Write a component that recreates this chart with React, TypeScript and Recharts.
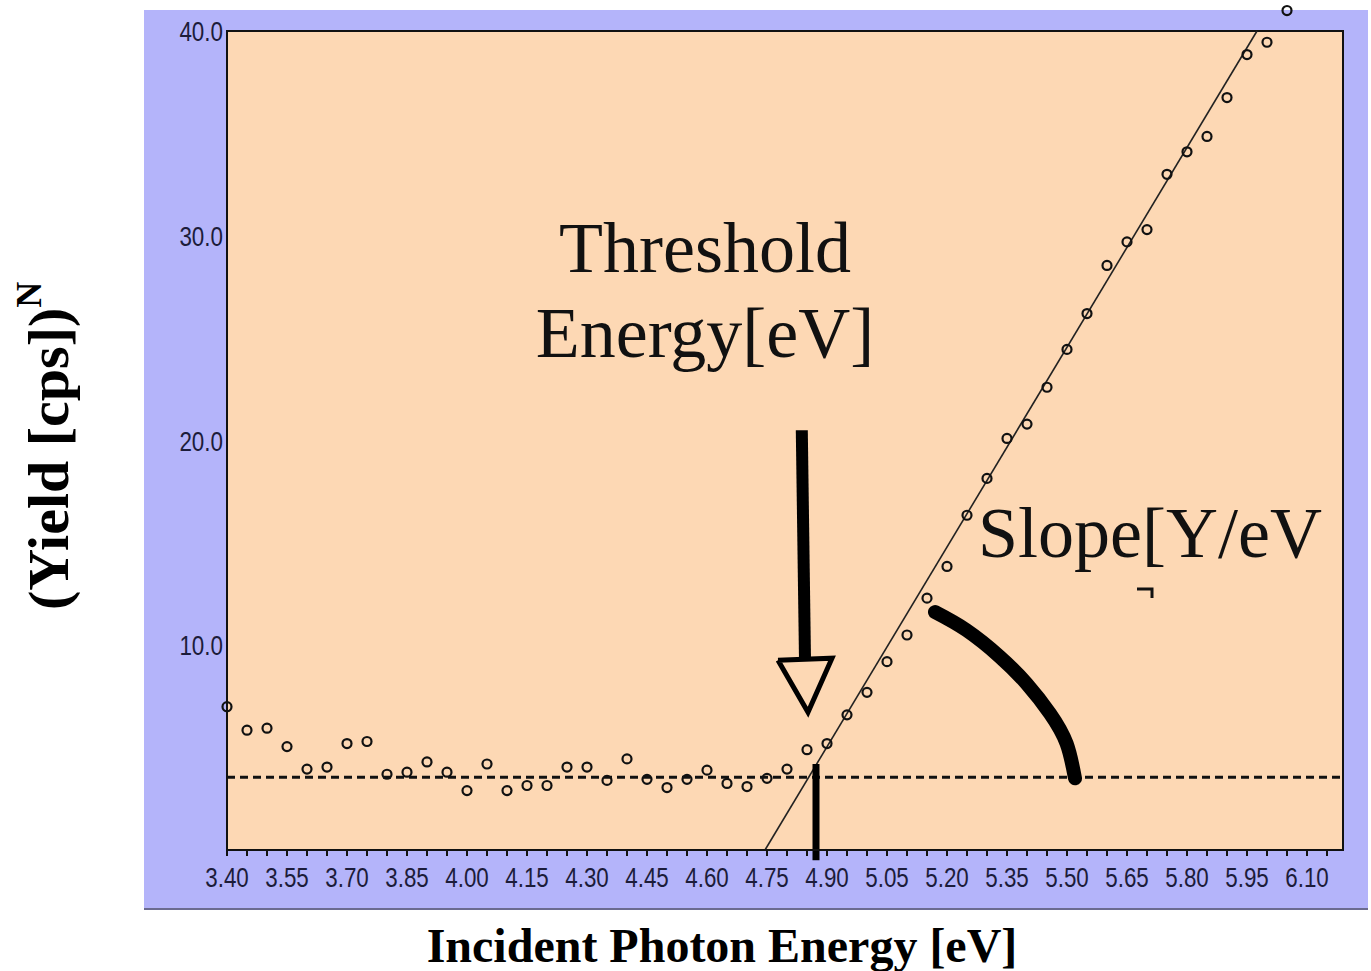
import { CartesianGrid, ComposedChart, Line, ReferenceArea, ReferenceDot, ReferenceLine, Scatter, XAxis, YAxis } from 'recharts';

// photon energy [eV] and (yield)^N
const energy = [
  3.4, 3.45, 3.5, 3.55, 3.6, 3.65, 3.7, 3.75, 3.8, 3.85, 3.9, 3.95, 4.0, 4.05, 4.1, 4.15, 4.2, 4.25,
  4.3, 4.35, 4.4, 4.45, 4.5, 4.55, 4.6, 4.65, 4.7, 4.75, 4.8, 4.85, 4.9, 4.95, 5.0, 5.05, 5.1, 5.15,
  5.2, 5.25, 5.3, 5.35, 5.4, 5.45, 5.5, 5.55, 5.6, 5.65, 5.7, 5.75, 5.8, 5.85, 5.9, 5.95, 6.0, 6.05,
];
const yieldN = [
  7.0, 5.85, 5.95, 5.05, 3.95, 4.05, 5.2, 5.3, 3.7, 3.8, 4.3, 3.8, 2.9, 4.2, 2.9, 3.15, 3.15, 4.05,
  4.05, 3.4, 4.45, 3.45, 3.05, 3.45, 3.9, 3.25, 3.1, 3.5, 3.95, 4.9, 5.2, 6.6, 7.7, 9.2, 10.5, 12.3,
  13.85, 16.35, 18.15, 20.1, 20.8, 22.6, 24.45, 26.2, 28.55, 29.7, 30.3, 33.0, 34.1, 34.85, 36.75, 38.85, 39.45, 41.0,
];

const xTickLabels = ['3.40', '3.55', '3.70', '3.85', '4.00', '4.15', '4.30', '4.45', '4.60', '4.75', '4.90', '5.05', '5.20', '5.35', '5.50', '5.65', '5.80', '5.95', '6.10'];
const yTicks = [10, 20, 30, 40];
const xDomain = [3.4, 6.19];
const yDomain = [0, 40];

const background = 3.55;
const fitLine = [{ x: 4.745, y: 0 }, { x: 5.975, y: 40 }];
const thresholdMark = [{ x: 4.8725, y: 4.2 }, { x: 4.8725, y: -0.5 }];
const arrowShaft = [{ x: 4.837, y: 20.5 }, { x: 4.845, y: 9.3 }];
const arrowHead = [
  { x: 4.7775, y: 9.27 },
  { x: 4.9125, y: 9.37 },
  { x: 4.8525, y: 6.73 },
  { x: 4.7775, y: 9.27 },
];
const slopeArc = [
  { x: 5.17, y: 11.62 },
  { x: 5.249, y: 10.73 },
  { x: 5.3325, y: 9.43 },
  { x: 5.399, y: 8.13 },
  { x: 5.4575, y: 6.67 },
  { x: 5.499, y: 5.2 },
  { x: 5.52, y: 3.5 },
];

// minor ticks every 0.05 eV, labels every 0.15
const xTicks = Array.from({ length: 56 }, (_, i) => Math.round((3.4 + i * 0.05) * 100) / 100);

const points = energy.map((x, i) => ({ x, y: yieldN[i] }));
const inside = points.filter((p) => p.y <= yDomain[1]);
const overflow = points.filter((p) => p.y > yDomain[1]);

const tickFont = '"Liberation Sans", Arial, sans-serif';
const serif = '"Liberation Serif", "Times New Roman", serif';
const ink = '#111';
const tickInk = '#1c1c3a';

const XTick = ({ x, y, payload }: any) => {
  const label = Number(payload.value).toFixed(2);
  if (!xTickLabels.includes(label)) return <g />;
  return (
    <text transform={`translate(${x},${y}) scale(0.8,1)`} dy="0.71em" textAnchor="middle" fontFamily={tickFont} fontSize={28} fill={tickInk}>
      {label}
    </text>
  );
};

const YTick = ({ x, y, payload }: any) => (
  <text transform={`translate(${x},${y}) scale(0.8,1)`} dy="0.36em" textAnchor="end" fontFamily={tickFont} fontSize={28} fill={tickInk}>
    {Number(payload.value).toFixed(1)}
  </text>
);

const Circle = ({ cx, cy }: any) => <circle cx={cx} cy={cy} r={4.5} fill="none" stroke={ink} strokeWidth={2.2} />;

export default function App() {
  return (
    <div style={{ position: 'absolute', left: 0, top: 0, width: 1371, height: 971, background: '#fff' }}>
      <div
        style={{
          position: 'absolute',
          left: 144,
          top: 10,
          width: 1224,
          height: 898,
          background: '#b4b4fa',
          borderBottom: '2px solid #6b6b90',
        }}
      />
      <div style={{ position: 'absolute', left: 0, top: 0 }}>
        <ComposedChart width={1371} height={971} margin={{ top: 31, right: 28, bottom: 61, left: 145 }}>
          <CartesianGrid horizontal={false} vertical={false} fill="#fdd8b4" />
          <XAxis
            type="number"
            dataKey="x"
            domain={xDomain}
            ticks={xTicks}
            interval={0}
            height={60}
            tick={<XTick />}
            tickSize={6}
            tickMargin={11}
            axisLine={{ stroke: ink, strokeWidth: 2 }}
            tickLine={{ stroke: ink, strokeWidth: 2 }}
          />
          <YAxis
            type="number"
            dataKey="y"
            domain={yDomain}
            ticks={yTicks}
            width={82}
            tickSize={0}
            tickMargin={4}
            tick={<YTick />}
            axisLine={{ stroke: ink, strokeWidth: 2 }}
            tickLine={false}
          />
          <ReferenceArea x1={xDomain[0]} x2={xDomain[1]} y1={yDomain[0]} y2={yDomain[1]} fill="none" stroke={ink} strokeWidth={2} ifOverflow="visible" />
          <ReferenceLine y={background} stroke={ink} strokeWidth={3} strokeDasharray="8 5" />
          <ReferenceLine segment={fitLine} stroke="#222" strokeWidth={1.6} ifOverflow="visible" />
          <ReferenceLine segment={thresholdMark} stroke="#000" strokeWidth={7} ifOverflow="visible" />
          <ReferenceLine segment={arrowShaft} stroke="#000" strokeWidth={12} ifOverflow="visible" />
          <Line data={arrowHead} dataKey="y" type="linear" stroke="#000" strokeWidth={5} strokeLinejoin="miter" dot={false} isAnimationActive={false} />
          <Line data={slopeArc} dataKey="y" type="natural" stroke="#000" strokeWidth={14} strokeLinecap="round" dot={false} isAnimationActive={false} />
          <Scatter data={inside} dataKey="y" shape={<Circle />} isAnimationActive={false} />
          {overflow.map((p) => (
            <ReferenceDot key={p.x} x={p.x} y={p.y} r={4.5} fill="none" stroke={ink} strokeWidth={2.2} ifOverflow="visible" />
          ))}
        </ComposedChart>
      </div>
      <svg width={1371} height={971} style={{ position: 'absolute', left: 0, top: 0, pointerEvents: 'none' }}>
        <g fontFamily={serif} fill="#111">
          <text x={705} y={272} textAnchor="middle" fontSize={72}>Threshold</text>
          <text x={705} y={357} textAnchor="middle" fontSize={72}>Energy[eV]</text>
          <text x={978} y={557} fontSize={72}>Slope[Y/eV</text>
          <text x={722} y={962} textAnchor="middle" fontSize={48} fontWeight="bold" fill="#000">
            Incident Photon Energy [eV]
          </text>
          <text transform="translate(68,610) rotate(-90)" fontSize={58} fontWeight="bold" fill="#000">
            (Yield [cps])
            <tspan fontSize={36} dy={-27}>N</tspan>
          </text>
        </g>
        <path d="M1137 589 H1152 V598" stroke="#111" strokeWidth={3} fill="none" />
      </svg>
    </div>
  );
}
